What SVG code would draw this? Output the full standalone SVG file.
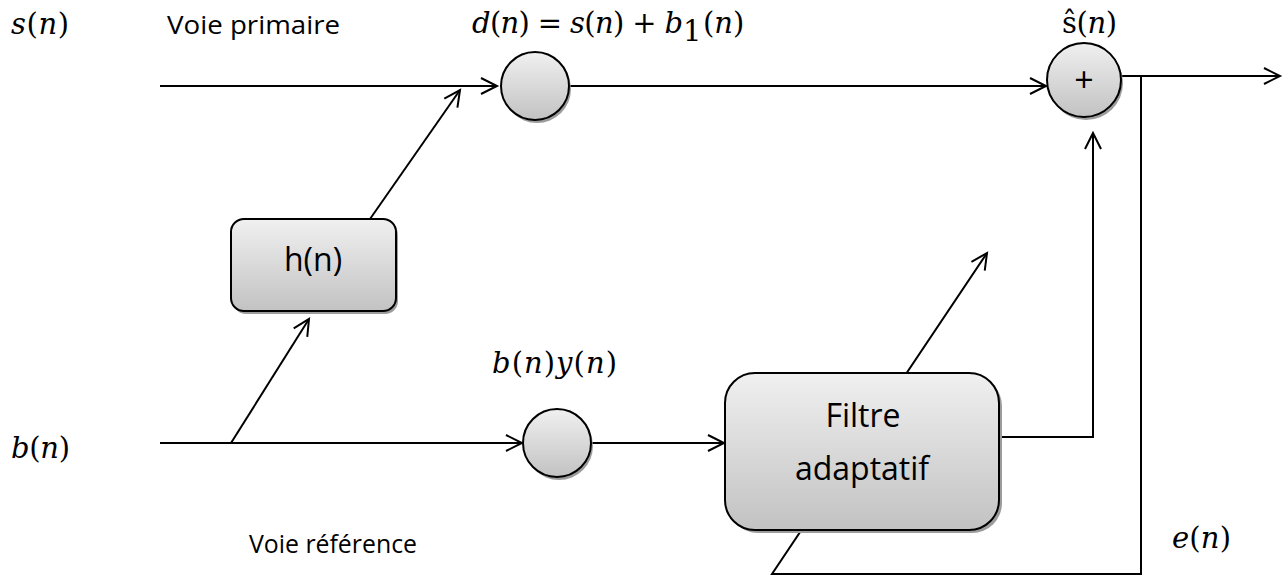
<svg xmlns="http://www.w3.org/2000/svg" width="1288" height="577" viewBox="0 0 1288 577">
  <style>
    .wire { fill: none; stroke: #000; stroke-width: 2; stroke-linejoin: miter; }
    .arrow { marker-end: url(#open-arrow); }
    .node { fill: url(#shade); stroke: #000; stroke-width: 2; }
    .shadow { fill: #9c9c9c; }
    .label { font-family: "Open Sans", "Liberation Sans", sans-serif; fill: #000; }
    .math { font-family: "DejaVu Serif", "Liberation Serif", serif; fill: #000; font-size: 29px; }
    .v { font-style: italic; }
  </style>
  <defs>
    <linearGradient id="shade" x1="0" y1="0" x2="0" y2="1">
      <stop offset="0" stop-color="#f0f0f0"/>
      <stop offset="1" stop-color="#c2c2c2"/>
    </linearGradient>
    <marker id="open-arrow" markerUnits="userSpaceOnUse" markerWidth="20" markerHeight="20" refX="17" refY="9" orient="auto" overflow="visible">
      <path d="M1,1 L17,9 L1,17" fill="none" stroke="#000" stroke-width="2"/>
    </marker>
  </defs>

  <!-- signal paths -->
  <g id="connectors">
    <path class="wire arrow" d="M160,86 H497"/>
    <path class="wire arrow" d="M370,219 L460,90"/>
    <path class="wire arrow" d="M160,443 H522"/>
    <path class="wire arrow" d="M231,443 L309,319"/>
    <path class="wire arrow" d="M591,443 H724"/>
    <path class="wire arrow" d="M569,86 H1046"/>
    <path class="wire arrow" d="M1121,76 H1280"/>
    <path class="wire arrow" d="M999,437 H1093 V133"/>
    <!-- error feedback, crossing behind the adaptive filter -->
    <path class="wire arrow" d="M1141,76 V574 H772 L987,253"/>
  </g>

  <g id="sum-primary">
    <circle class="shadow" cx="537" cy="89" r="34"/>
    <circle class="node" cx="535" cy="86" r="34"/>
  </g>

  <g id="sum-output">
    <circle class="shadow" cx="1086" cy="83" r="37"/>
    <circle class="node" cx="1084" cy="80" r="37"/>
    <text class="label" x="1084" y="92" font-size="34" text-anchor="middle">+</text>
  </g>

  <g id="sum-reference">
    <circle class="shadow" cx="559" cy="446" r="34"/>
    <circle class="node" cx="557" cy="443" r="34"/>
  </g>

  <g id="h-block">
    <rect class="shadow" x="233" y="222" width="165" height="92" rx="13"/>
    <rect class="node" x="231" y="219" width="165" height="92" rx="13"/>
    <text class="label" x="313" y="271" font-size="32" text-anchor="middle">h(n)</text>
  </g>

  <g id="adaptive-filter">
    <rect class="shadow" x="728" y="376" width="274" height="157" rx="30"/>
    <rect class="node" x="725" y="373" width="274" height="157" rx="30"/>
    <text class="label" x="863" y="427" font-size="32" text-anchor="middle">Filtre</text>
    <text class="label" x="862" y="480" font-size="32" text-anchor="middle">adaptatif</text>
  </g>

  <!-- path names -->
  <g id="labels">
    <text class="label" x="167" y="34" font-size="26" textLength="173" lengthAdjust="spacingAndGlyphs">Voie primaire</text>
    <text class="label" x="249" y="553" font-size="26" textLength="168" lengthAdjust="spacingAndGlyphs">Voie référence</text>

    <text class="math" x="11" y="34" textLength="58"><tspan class="v">s</tspan>(<tspan class="v">n</tspan>)</text>
    <text class="math" x="11" y="458" textLength="59"><tspan class="v">b</tspan>(<tspan class="v">n</tspan>)</text>
    <text class="math" x="472" y="33" textLength="211"><tspan class="v">d</tspan>(<tspan class="v">n</tspan>) = <tspan class="v">s</tspan>(<tspan class="v">n</tspan>) + <tspan class="v">b</tspan></text>
    <text class="math" x="683" y="41" font-size="16">1</text>
    <text class="math" x="703" y="33">(<tspan class="v">n</tspan>)</text>
    <text class="math" x="1062" y="33" textLength="55">ŝ(<tspan class="v">n</tspan>)</text>
    <text class="math" x="492" y="373" textLength="125"><tspan class="v">b</tspan>(<tspan class="v">n</tspan>)<tspan class="v">y</tspan>(<tspan class="v">n</tspan>)</text>
    <text class="math" x="1172" y="548" textLength="59"><tspan class="v">e</tspan>(<tspan class="v">n</tspan>)</text>
  </g>
</svg>
